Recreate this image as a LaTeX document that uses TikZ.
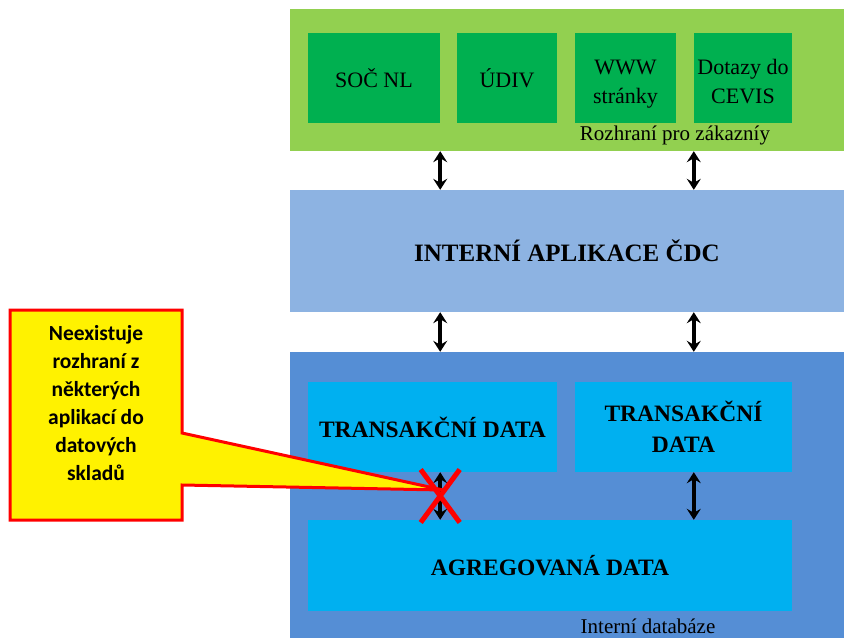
\documentclass[tikz,border=0pt]{standalone}
\usepackage{fontspec}
\setmainfont{Liberation Serif}
\newfontfamily\notefont{Carlito}
\usetikzlibrary{shapes.misc,arrows.meta,calc}

\definecolor{custgreen}{HTML}{92D050}
\definecolor{appgreen}{HTML}{00B050}
\definecolor{applight}{HTML}{8DB3E2}
\definecolor{dbblue}{HTML}{558ED5}
\definecolor{datacyan}{HTML}{00B0F0}

\begin{document}
\begin{tikzpicture}[x=1pt,y=-1pt,
    layer/.style={inner sep=0pt, minimum width=554pt},
    app/.style={fill=appgreen, inner sep=0pt, minimum height=90pt, align=center,
                font=\fontsize{22}{29}\selectfont},
    twolines/.style={text height=56pt, text depth=6pt},
    data/.style={fill=datacyan, inner sep=0pt, minimum height=90pt, align=center,
                 font=\fontsize{23.5}{31}\selectfont\bfseries},
    caption/.style={font=\fontsize{21}{24}\selectfont, inner sep=0pt},
    link/.style={{Stealth[length=11pt,width=14pt,inset=4pt]}-{Stealth[length=11pt,width=14pt,inset=4pt]},
                 line width=3.5pt},
    note/.style={fill=yellow, draw=red, line width=3pt, line join=miter}]
\useasboundingbox (0,0) rectangle (844,638);

% three layers
\node[layer, fill=custgreen, minimum height=142pt] (cust) at (567,80) {};
\node[layer, fill=applight, minimum height=122pt, font=\fontsize{25}{30}\selectfont\bfseries]
    (intern) at (567,251) {INTERNÍ APLIKACE ČDC};
\node[layer, fill=dbblue, minimum height=286pt] (db) at (567,495) {};

% customer interfaces
\node[app, minimum width=132pt] (soc) at (374,78) {SOČ NL};
\node[app, minimum width=100pt] (udiv) at (507,78) {ÚDIV};
\node[app, twolines, minimum width=101pt] (www) at (625.5,78) {WWW\\stránky};
\node[app, twolines, minimum width=98pt] (cevis) at (743,78) {Dotazy do\\CEVIS};
\node[caption] (custlbl) at (675,135) {Rozhraní pro zákazníy};

% databases
\node[data, minimum width=249pt] (trans1) at (432.5,427) {TRANSAKČNÍ DATA};
\node[data, minimum width=217pt] (trans2) at (683.5,427) {TRANSAKČNÍ\\DATA};
\node[data, minimum width=484pt, minimum height=91pt] (agreg) at (550,565.5) {AGREGOVANÁ DATA};
\node[caption] (dblbl) at (648,626) {Interní databáze};

% links between layers
\draw[link] (soc.east |- cust.south) -- (soc.east |- intern.north);
\draw[link] (cevis.west |- cust.south) -- (cevis.west |- intern.north);
\draw[link] (soc.east |- intern.south) -- (soc.east |- db.north);
\draw[link] (cevis.west |- intern.south) -- (cevis.west |- db.north);
\draw[link] (soc.east |- trans1.south) -- (soc.east |- agreg.north);
\draw[link] (cevis.west |- trans2.south) -- (cevis.west |- agreg.north);

% missing interface: callout and cross
\coordinate (blocked) at ($(soc.east |- trans1.south)!0.5!(soc.east |- agreg.north)$);
\draw[note] (10,310) -- (182,310) -- (182,433) -- ($(blocked)+(3,-6)$)
    -- (182,485) -- (182,520) -- (10,520) -- cycle;
\node[inner sep=0pt, align=center, font=\notefont\bfseries\fontsize{21.5}{28}\selectfont]
    (remark) at (96,403) {Neexistuje\\rozhraní z\\některých\\aplikací do\\datových\\skladů};
\node[cross out, draw=red, line width=5pt, inner sep=0pt,
      minimum width=34pt, minimum height=48pt] (cross) at (blocked) {};
\end{tikzpicture}
\end{document}
